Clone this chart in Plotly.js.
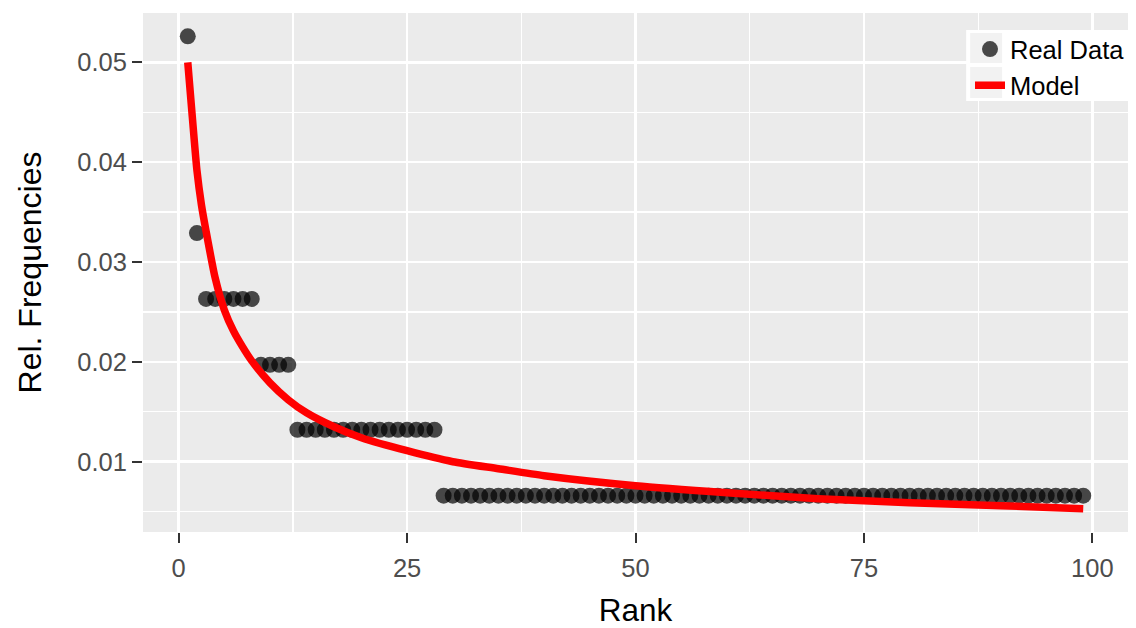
<!DOCTYPE html>
<html>
<head>
<meta charset="utf-8">
<script src="https://cdn.plot.ly/plotly-3.0.1.min.js"></script>
<style>
  html, body { margin: 0; padding: 0; background: #fff; }
  #plotDiv { width: 1136px; height: 628px; }
</style>
</head>
<body>
<div id="plotDiv"></div>
<script>
// Observed relative frequencies, ranks 1..99
const realFreq = [
  0.0526, 0.0329,
  0.0263, 0.0263, 0.0263, 0.0263, 0.0263, 0.0263,
  0.0197, 0.0197, 0.0197, 0.0197,
  0.0132, 0.0132, 0.0132, 0.0132, 0.0132, 0.0132, 0.0132, 0.0132,
  0.0132, 0.0132, 0.0132, 0.0132, 0.0132, 0.0132, 0.0132, 0.0132,
  0.0066, 0.0066, 0.0066, 0.0066, 0.0066, 0.0066, 0.0066, 0.0066, 0.0066, 0.0066,
  0.0066, 0.0066, 0.0066, 0.0066, 0.0066, 0.0066, 0.0066, 0.0066, 0.0066, 0.0066,
  0.0066, 0.0066, 0.0066, 0.0066, 0.0066, 0.0066, 0.0066, 0.0066, 0.0066, 0.0066,
  0.0066, 0.0066, 0.0066, 0.0066, 0.0066, 0.0066, 0.0066, 0.0066, 0.0066, 0.0066,
  0.0066, 0.0066, 0.0066, 0.0066, 0.0066, 0.0066, 0.0066, 0.0066, 0.0066, 0.0066,
  0.0066, 0.0066, 0.0066, 0.0066, 0.0066, 0.0066, 0.0066, 0.0066, 0.0066, 0.0066,
  0.0066, 0.0066, 0.0066, 0.0066, 0.0066, 0.0066, 0.0066, 0.0066, 0.0066, 0.0066,
  0.0066
];
const realRank = realFreq.map((_, i) => i + 1);

// Model curve
const modelRank = [1, 1.5, 2, 2.5, 3, 4, 5, 6, 7, 8, 10, 12, 14, 17, 20, 25, 30, 35, 40, 50, 60, 70, 80, 90, 99];
const modelFreq = [0.0500, 0.0445, 0.0392, 0.0357, 0.0331, 0.0284, 0.0252, 0.0231, 0.0215, 0.0201,
  0.0179, 0.0162, 0.0149, 0.0135, 0.0124, 0.0111, 0.0100, 0.0093, 0.0086, 0.0076,
  0.0069, 0.0063, 0.0059, 0.0056, 0.0053];

const xTicks = [0, 25, 50, 75, 100];
const yTicks = [0.01, 0.02, 0.03, 0.04, 0.05];
const yTickText = ["0.01", "0.02", "0.03", "0.04", "0.05"];

const FONT = "Liberation Sans, Arial, sans-serif";

const points = {
  x: realRank,
  y: realFreq,
  type: "scatter",
  mode: "markers",
  name: "Real Data",
  marker: { size: 16, color: "rgba(0,0,0,0.7)", line: { width: 0 } },
};

const model = {
  x: modelRank,
  y: modelFreq,
  type: "scatter",
  mode: "lines",
  name: "Model",
  line: { color: "#FF0000", width: 7.5, shape: "spline", smoothing: 0.6 },
};

// paper-coordinate helpers for the legend boxes (panel is 986 x 519 px)
const px = (v) => (v - 143) / 986;
const py = (v) => 1 - (v - 13) / 519;

const layout = {
  width: 1136,
  height: 628,
  margin: { l: 143, r: 7, t: 13, b: 96 },
  paper_bgcolor: "#FFFFFF",
  plot_bgcolor: "#EBEBEB",
  font: { family: FONT },
  showlegend: true,
  legend: {
    x: px(970),
    y: py(26),
    xanchor: "left",
    yanchor: "top",
    bgcolor: "rgba(0,0,0,0)",
    font: { size: 25.5, color: "#000000", family: FONT },
  },
  xaxis: {
    range: [-3.9, 103.9],
    tickvals: xTicks,
    ticktext: xTicks.map(String),
    showgrid: true,
    gridcolor: "#FFFFFF",
    gridwidth: 2.6,
    minor: { dtick: 12.5, tick0: 0, showgrid: true, gridcolor: "#FFFFFF", gridwidth: 1.3 },
    zeroline: false,
    showline: false,
    ticks: "outside",
    ticklen: 10,
    tickwidth: 2,
    tickcolor: "#333333",
    ticklabelstandoff: 3,
    tickfont: { size: 25.5, color: "#4D4D4D" },
    title: { text: "Rank", font: { size: 31.5, color: "#000000" }, standoff: 18 },
    automargin: false,
  },
  yaxis: {
    range: [0.00296, 0.05494],
    tickvals: yTicks,
    ticktext: yTickText,
    showgrid: true,
    gridcolor: "#FFFFFF",
    gridwidth: 2.6,
    minor: { dtick: 0.005, tick0: 0, showgrid: true, gridcolor: "#FFFFFF", gridwidth: 1.3 },
    zeroline: false,
    showline: false,
    ticks: "outside",
    ticklen: 10,
    tickwidth: 2,
    tickcolor: "#333333",
    tickfont: { size: 25.5, color: "#4D4D4D" },
    title: { text: "Rel. Frequencies", font: { size: 32, color: "#000000" }, standoff: 26 },
    automargin: false,
  },
  shapes: [
    { type: "rect", xref: "paper", yref: "paper", layer: "above",
      x0: px(967), x1: px(1136), y0: py(101), y1: py(30),
      fillcolor: "#FFFFFF", line: { width: 0 } },
    { type: "rect", xref: "paper", yref: "paper", layer: "above",
      x0: px(971), x1: px(1003), y0: py(63), y1: py(33),
      fillcolor: "#F2F2F2", line: { width: 0 } },
    { type: "rect", xref: "paper", yref: "paper", layer: "above",
      x0: px(971), x1: px(1003), y0: py(98), y1: py(67),
      fillcolor: "#F2F2F2", line: { width: 0 } },
  ],
};

Plotly.newPlot("plotDiv", [points, model], layout, { displayModeBar: false, staticPlot: true });
</script>
</body>
</html>
